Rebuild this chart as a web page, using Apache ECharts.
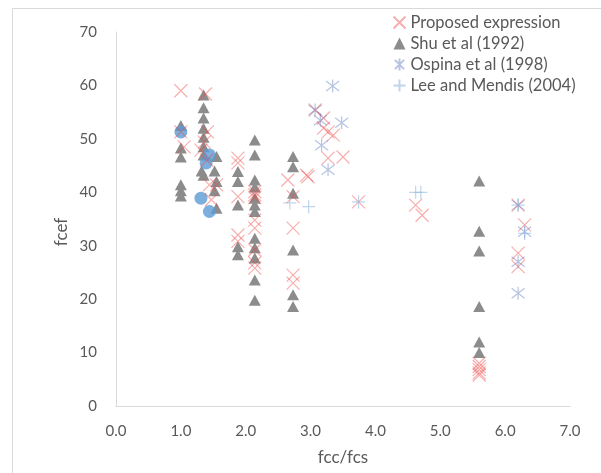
<!DOCTYPE html>
<html>
<head>
<meta charset="utf-8">
<script src="https://cdn.jsdelivr.net/npm/echarts@6/dist/echarts.min.js"></script>
<style>
  html, body { margin: 0; padding: 0; background: #fff; }
  #chart { width: 601px; height: 473px; }
</style>
</head>
<body>
<div id="chart"></div>
<script>
// Axis ticks
const xTicks = [0, 1, 2, 3, 4, 5, 6, 7];
const yTicks = [0, 10, 20, 30, 40, 50, 60, 70];

// Series names
const seriesNames = ['Proposed expression', 'Shu et al (1992)', 'Ospina et al (1998)', 'Lee and Mendis (2004)'];

// [fcc/fcs, fcef] pairs
const proposed = [
  [1.0, 59], [1.0, 51.3], [1.05, 48.5],
  [1.38, 58.4], [1.41, 51.3], [1.36, 49.4], [1.31, 47.9], [1.4, 46], [1.44, 41.4], [1.55, 41.4], [1.47, 38.6],
  [1.88, 46.4], [1.88, 45.5], [1.88, 39.2], [1.88, 32], [1.88, 30.8],
  [2.14, 40.1], [2.14, 39.5], [2.14, 39], [2.14, 34.8], [2.14, 33.3], [2.14, 29.2], [2.14, 26.8], [2.14, 25.8],
  [2.65, 42.3], [2.94, 43.2], [2.73, 39.2], [2.73, 33.3], [2.73, 24.5], [2.73, 23],
  [3.07, 55.4], [3.2, 53.9], [3.2, 52], [3.27, 51.3], [3.35, 50.7], [3.5, 46.6], [3.27, 46.4], [2.96, 42.9], [3.74, 38.2],
  [4.62, 37.6], [4.72, 35.7],
  [5.6, 8], [5.6, 7.4], [5.6, 6.8], [5.6, 6.2], [5.6, 5.8],
  [6.2, 37.6], [6.3, 33.9], [6.2, 28.6], [6.2, 26.1]
];

const shu = [
  [1.0, 52.5], [1.0, 48.3], [1.0, 46.6], [1.0, 41.4], [1.0, 40.3], [1.0, 39.3],
  [1.35, 58.2], [1.35, 55.8], [1.35, 53.9], [1.35, 52], [1.35, 50.3], [1.35, 48.5], [1.35, 47], [1.32, 44], [1.35, 43.2],
  [1.55, 46.7], [1.52, 44], [1.55, 42], [1.52, 40.3], [1.55, 37],
  [1.88, 43.9], [1.88, 42], [1.88, 37.6], [1.88, 29.8], [1.88, 28.3],
  [2.14, 49.8], [2.14, 47], [2.14, 42.3], [2.14, 41], [2.14, 38.9], [2.14, 37.6], [2.14, 36.4], [2.14, 31.4],
  [2.14, 29.6], [2.14, 27.7], [2.14, 23.6], [2.14, 19.8],
  [2.73, 46.7], [2.73, 44.8], [2.73, 39.8], [2.73, 29.2], [2.73, 20.8], [2.73, 18.6],
  [5.6, 42.1], [5.6, 32.7], [5.6, 29], [5.6, 18.6], [5.6, 12], [5.6, 10]
];

const ospina = [
  [3.34, 59.9], [3.07, 55.4], [3.15, 53.5], [3.48, 53], [3.17, 48.8], [3.27, 44.2],
  [6.2, 37.6], [6.3, 32.6], [6.2, 27], [6.2, 21.1]
];

const lee = [
  [2.68, 38], [2.97, 37.3], [3.74, 38.2], [4.62, 40], [4.7, 40], [6.2, 37.6], [6.3, 32.3]
];

// Additional filled points (no legend entry)
const measured = [
  [1.0, 51.3], [1.44, 47], [1.39, 45.5], [1.31, 38.9], [1.44, 36.4]
];

const FONT = 'Lato, "Open Sans", sans-serif';
const TEXT = '#595959';
const AXIS = '#d9d9d9';

const crossPath = 'path://M0,0L10,10M10,0L0,10';
const starPath = 'path://M0,0L10,10M10,0L0,10M5,-1.5L5,11.5';
const plusPath = 'path://M0,5L10,5M5,0L5,10';

const chart = echarts.init(document.getElementById('chart'), null, { renderer: 'canvas' });

chart.setOption({
  backgroundColor: '#fff',
  animation: false,
  textStyle: { fontFamily: FONT },
  graphic: [
    {
      type: 'rect',
      shape: { x: 12.5, y: 8.5, width: 620, height: 500 },
      style: { fill: 'none', stroke: AXIS, lineWidth: 1 },
      silent: true,
      z: -1
    },
    {
      // vertical axis title
      type: 'text',
      x: 62,
      y: 232,
      rotation: Math.PI / 2,
      style: {
        text: 'fcef',
        fill: TEXT,
        font: '17px ' + FONT,
        textAlign: 'center',
        textVerticalAlign: 'middle'
      },
      silent: true
    }
  ],
  grid: { left: 116, right: 31, top: 32, bottom: 67 },
  legend: {
    orient: 'vertical',
    left: 386,
    top: 9,
    padding: 5,
    itemGap: 4,
    itemWidth: 12,
    itemHeight: 12,
    data: seriesNames,
    textStyle: { color: TEXT, fontSize: 16.5, fontFamily: FONT }
  },
  xAxis: {
    type: 'value',
    min: xTicks[0],
    max: xTicks[xTicks.length - 1],
    interval: 1,
    name: 'fcc/fcs',
    nameLocation: 'middle',
    nameGap: 43,
    nameTextStyle: { color: TEXT, fontSize: 17, fontFamily: FONT },
    axisLine: { show: true, onZero: false, lineStyle: { color: AXIS, width: 1 } },
    axisTick: { show: false },
    splitLine: { show: false },
    axisLabel: {
      color: TEXT, fontSize: 15, margin: 18, fontFamily: FONT,
      formatter: v => v.toFixed(1)
    }
  },
  yAxis: {
    type: 'value',
    min: yTicks[0],
    max: yTicks[yTicks.length - 1],
    interval: 10,
    axisLine: { show: true, lineStyle: { color: AXIS, width: 1 } },
    axisTick: { show: false },
    splitLine: { show: false },
    axisLabel: { color: TEXT, fontSize: 15, margin: 19, fontFamily: FONT }
  },
  series: [
    {
      name: 'Shu et al (1992)',
      type: 'scatter',
      data: shu,
      symbol: 'triangle',
      symbolSize: [12, 11],
      itemStyle: { color: '#8c8c8c', opacity: 1 },
      z: 2
    },
    {
      name: 'Circles',
      type: 'scatter',
      data: measured,
      symbol: 'circle',
      symbolSize: 13,
      itemStyle: { color: '#5b9bd5' },
      z: 3
    },
    {
      name: 'Proposed expression',
      type: 'scatter',
      data: proposed,
      symbol: crossPath,
      symbolSize: 13,
      itemStyle: { color: 'none', borderColor: 'rgba(240, 70, 70, 0.55)', borderWidth: 1.2 },
      z: 4
    },
    {
      name: 'Ospina et al (1998)',
      type: 'scatter',
      data: ospina,
      symbol: starPath,
      symbolSize: 13,
      itemStyle: { color: 'none', borderColor: 'rgba(90, 120, 190, 0.55)', borderWidth: 1.2 },
      z: 5
    },
    {
      name: 'Lee and Mendis (2004)',
      type: 'scatter',
      data: lee,
      symbol: plusPath,
      symbolSize: 13,
      itemStyle: { color: 'none', borderColor: 'rgba(140, 180, 225, 0.7)', borderWidth: 1.2 },
      z: 5
    }
  ]
});
</script>
</body>
</html>
